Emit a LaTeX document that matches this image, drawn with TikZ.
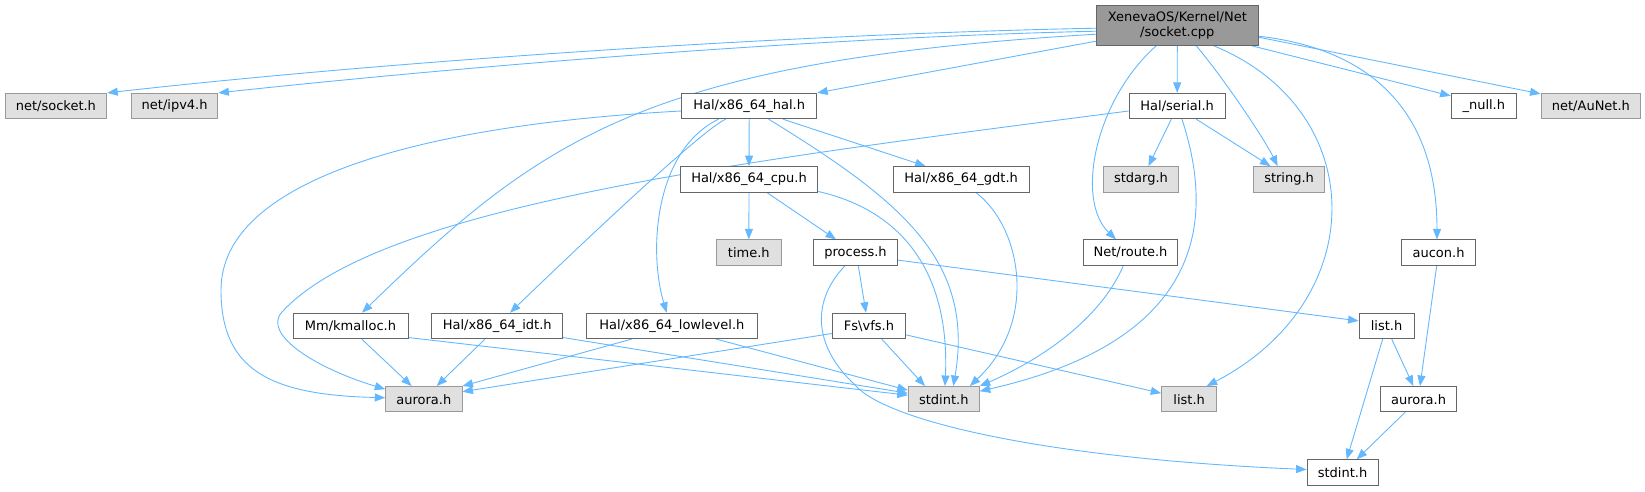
\documentclass[tikz,border=0pt]{standalone}
\usepackage{fontspec}
\setmainfont{DejaVu Sans}
\usetikzlibrary{arrows.meta,backgrounds}
\definecolor{edgeblue}{HTML}{63B8FF}
\definecolor{mainfill}{HTML}{999999}
\definecolor{darkborder}{HTML}{666666}
\definecolor{grayfill}{HTML}{E0E0E0}
\definecolor{grayborder}{HTML}{999999}
\tikzset{
  box/.style={draw=darkborder, fill=white, line width=0.9pt, rectangle, inner sep=0pt,
    minimum height=25.4pt, font=\fontsize{13}{15.5}\selectfont, text=black},
  extbox/.style={box, draw=grayborder, fill=grayfill},
  rootbox/.style={box, fill=mainfill, minimum height=40.3pt, align=center},
  dep/.style={draw=edgeblue, line width=0.9pt, -{Triangle[length=10.5pt,width=8pt]}},
}
\begin{document}
\begin{tikzpicture}[x=1pt,y=-1pt]
\useasboundingbox (0,0) rectangle (1645,491);
\node[rootbox, minimum width=162pt] (main) at (1177.3,25.2) {XenevaOS/Kernel/Net\\/socket.cpp};
\node[extbox, minimum width=101.8pt] (socketh) at (55.9,106) {net/socket.h};
\node[extbox, minimum width=86.5pt] (ipv4) at (174.65,106) {net/ipv4.h};
\node[box, minimum width=135pt] (hal) at (749.2,106) {Hal/x86\_64\_hal.h};
\node[box, minimum width=96.3pt] (serial) at (1177.15,106) {Hal/serial.h};
\node[box, minimum width=65.4pt] (null) at (1483.8,106) {\_null.h};
\node[extbox, minimum width=99.8pt] (aunet) at (1590.9,106) {net/AuNet.h};
\node[box, minimum width=137.4pt] (cpu) at (749,179.3) {Hal/x86\_64\_cpu.h};
\node[box, minimum width=135.7pt] (gdt) at (961.15,179.3) {Hal/x86\_64\_gdt.h};
\node[extbox, minimum width=75pt] (stdarg) at (1141,179.3) {stdarg.h};
\node[extbox, minimum width=70.4pt] (stringh) at (1289.1,179.3) {string.h};
\node[extbox, minimum width=64.3pt] (timeh) at (748.85,252.6) {time.h};
\node[box, minimum width=84.4pt] (process) at (855.5,252.6) {process.h};
\node[box, minimum width=94.4pt] (route) at (1130.5,252.6) {Net/route.h};
\node[box, minimum width=73.6pt] (aucon) at (1438.5,252.6) {aucon.h};
\node[box, minimum width=115pt] (kmalloc) at (350.5,325.9) {Mm/kmalloc.h};
\node[box, minimum width=131pt] (idt) at (497.2,325.9) {Hal/x86\_64\_idt.h};
\node[box, minimum width=170.4pt] (lowlevel) at (671.9,325.9) {Hal/x86\_64\_lowlevel.h};
\node[box, minimum width=73.4pt] (vfs) at (869,325.9) {Fs\textbackslash vfs.h};
\node[box, minimum width=55pt] (listw) at (1386.5,325.9) {list.h};
\node[extbox, minimum width=76.3pt] (aurorag) at (423.85,399.2) {aurora.h};
\node[extbox, minimum width=71pt] (stdintg) at (943.8,399.2) {stdint.h};
\node[extbox, minimum width=55pt] (listg) at (1189.2,399.2) {list.h};
\node[box, minimum width=76.4pt] (auroraw) at (1418.5,399.2) {aurora.h};
\node[box, minimum width=71pt] (stdintw) at (1342.5,472.5) {stdint.h};

\begin{scope}[on background layer]
% from main
\draw[dep] ([yshift=-3pt]main.west) .. controls (800,34) and (400,60) .. (socketh.north east);
\draw[dep] ([yshift=-6pt]main.west) .. controls (800,38) and (450,68) .. (ipv4.north east);
\draw[dep] ([yshift=-9pt]main.west) .. controls (646,61) and (542,138) .. ([xshift=11.5pt]kmalloc.north);
\draw[dep] ([yshift=-16pt]main.west) -- (hal.north east);
\draw[dep] (main.south) -- (serial.north);
\draw[dep] ([xshift=-21pt]main.south) .. controls (1095,100) and (1075,200) .. ([xshift=-14.5pt]route.north);
\draw[dep] ([xshift=19pt]main.south) .. controls (1225,80) and (1265,140) .. ([xshift=-11.5pt]stringh.north);
\draw[dep] ([xshift=36.5pt]main.south) .. controls (1370,110) and (1372,300) .. ([xshift=17.5pt]listg.north);
\draw[dep] ([yshift=-11pt]main.east) .. controls (1380,50) and (1437,120) .. ([xshift=-1.5pt]aucon.north);
\draw[dep] ([xshift=-7pt]main.south east) -- ([yshift=-3pt]null.north west);
\draw[dep] ([yshift=-12pt]main.east) -- ([yshift=-1pt]aunet.north west);
% from hal
\draw[dep] ([yshift=-5pt]hal.west) .. controls (420,125) and (221,180) .. (221,290)
  .. controls (221,370) and (270,395) .. ([yshift=1.5pt]aurorag.west);
\draw[dep] ([xshift=-23.5pt]hal.south) .. controls (705,128) and (600,226) .. ([xshift=12.8pt]idt.north);
\draw[dep] ([xshift=-30.6pt]hal.south) .. controls (655,150) and (648,250) .. ([xshift=-5.2pt]lowlevel.north);
\draw[dep] (hal.south) -- (cpu.north);
\draw[dep] ([xshift=33.7pt]hal.south) -- ([xshift=-35.5pt]gdt.north);
\draw[dep] ([xshift=19.4pt]hal.south) .. controls (900,200) and (975,260) .. ([xshift=9.5pt]stdintg.north);
% from cpu
\draw[dep] (cpu.south) -- (timeh.north);
\draw[dep] ([xshift=17.8pt]cpu.south) -- ([xshift=-19.5pt]process.north);
\draw[dep] ([yshift=1pt]cpu.south east) .. controls (900,210) and (950,270) .. ([xshift=1.2pt]stdintg.north);
% from gdt
\draw[dep] ([xshift=14.5pt]gdt.south) .. controls (1020,225) and (1040,320) .. ([xshift=26pt]stdintg.north);
% from serial
\draw[dep] ([yshift=-5pt]serial.west) .. controls (750,160) and (380,205) .. (282,312)
  .. controls (262,334) and (315,368) .. ([yshift=10pt]aurorag.west);
\draw[dep] ([xshift=-5.8pt]serial.south) -- ([xshift=7.4pt]stdarg.north);
\draw[dep] ([xshift=19pt]serial.south) -- ([xshift=-18.6pt]stringh.north);
\draw[dep] ([xshift=4.8pt]serial.south) .. controls (1215,220) and (1205,340) .. ([yshift=8pt]stdintg.east);
% from route
\draw[dep] ([xshift=-7.2pt]route.south) .. controls (1100,320) and (1040,360) .. (stdintg.north east);
% from process
\draw[dep] ([xshift=2.8pt]process.south) -- ([xshift=-3pt]vfs.north);
\draw[dep] ([yshift=-7.5pt]process.east) -- ([yshift=5pt]listw.west);
\draw[dep] ([xshift=-10.5pt]process.south) .. controls (812,300) and (812,345) .. (855,385)
  .. controls (885,420) and (1040,458) .. ([yshift=3pt]stdintw.west);
% from vfs
\draw[dep] ([xshift=12.7pt]vfs.south) -- ([xshift=-18.8pt]stdintg.north);
\draw[dep] ([yshift=-9pt]vfs.east) -- ([yshift=6pt]listg.west);
\draw[dep] ([yshift=-7.6pt]vfs.west) -- ([yshift=7.5pt]aurorag.east);
% from kmalloc, idt, lowlevel
\draw[dep] ([xshift=11.2pt]kmalloc.south) -- ([xshift=-12.2pt]aurorag.north);
\draw[dep] ([yshift=1.5pt]kmalloc.south east) -- ([yshift=4pt]stdintg.west);
\draw[dep] ([xshift=-12.2pt]idt.south) -- ([xshift=12.8pt]aurorag.north);
\draw[dep] ([yshift=1.5pt]idt.south east) -- ([yshift=6pt]stdintg.west);
\draw[dep] ([xshift=-40.2pt]lowlevel.south) -- (aurorag.north east);
\draw[dep] ([xshift=44pt]lowlevel.south) -- ([yshift=9pt]stdintg.west);
% right cluster
\draw[dep] ([xshift=-1.8pt]aucon.south) -- ([xshift=1.5pt]auroraw.north);
\draw[dep] ([xshift=5.2pt]listw.south) -- ([xshift=-5.2pt]auroraw.north);
\draw[dep] ([xshift=-3.8pt]listw.south) -- ([xshift=4.2pt]stdintw.north);
\draw[dep] ([xshift=-13.5pt]auroraw.south) -- ([xshift=14.2pt]stdintw.north);
\end{scope}
\end{tikzpicture}
\end{document}
